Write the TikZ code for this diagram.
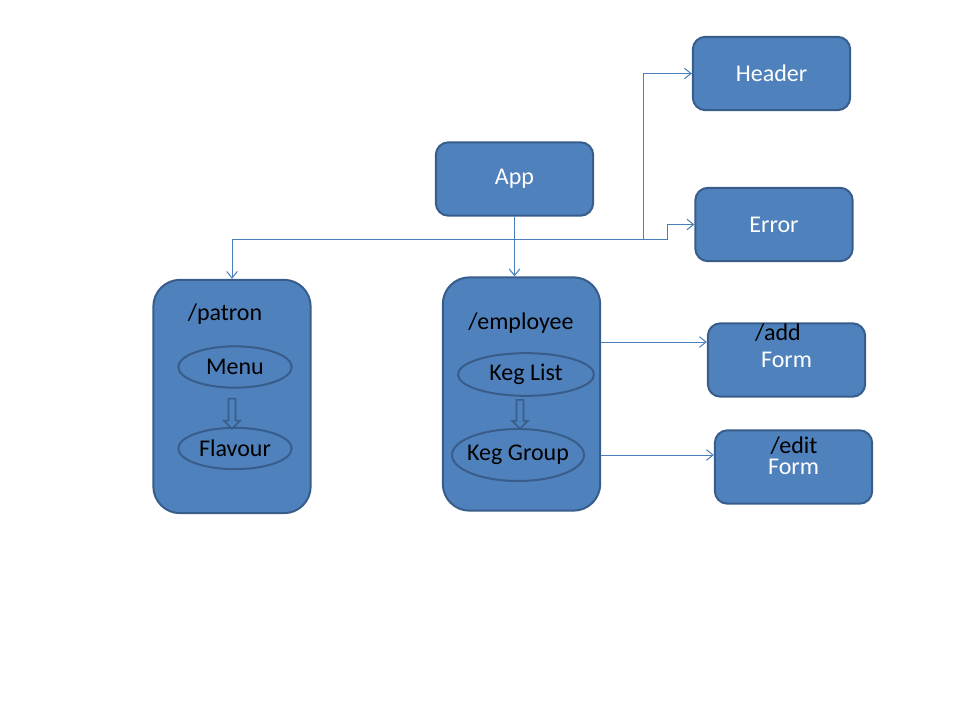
\documentclass[tikz,border=0pt]{standalone}
\usepackage{fontspec}
\setmainfont{Carlito}
\usetikzlibrary{arrows.meta,shapes.geometric}
\definecolor{boxfill}{HTML}{4F81BD}
\definecolor{boxline}{HTML}{385D8A}
\definecolor{wire}{HTML}{4A7EBB}
\begin{document}
\begin{tikzpicture}[x=0.75pt, y=-0.75pt, font=\fontsize{18}{21}\selectfont,
    box/.style={draw=boxline, fill=boxfill, line width=1.5pt, rounded corners=9.4pt,
        minimum width=118pt, minimum height=55pt, text=white},
    bigbox/.style={box, rounded corners=20pt, minimum height=175pt},
    oval/.style={ellipse, draw=boxline, fill=boxfill, line width=1.5pt,
        minimum width=85pt, minimum height=31pt, inner sep=0pt},
    conn/.style={draw=wire, line width=0.75pt, -{Straight Barb[length=5pt,width=8pt]}},
    flow/.style={draw=boxline, fill=boxfill, line width=1.2pt, line join=miter}]
            \useasboundingbox (0,0) rectangle (960,720);
            % boxes
            \node[box] (header) at (771.5,73.5) {Header};
            \node[box] (app) at (514.5,179) {App};
            \node[box] (error) at (774,224.5) {Error};
            \node[bigbox] (patron) at (232,396.5) {};
            \node[bigbox] (employee) at (521.5,394) {};
            \node[box] (add) at (786.5,360) {Form};
            \node[box] (edit) at (793.5,467) {Form};
            \node (patronlabel) at (225,314) {/patron};
            \node (employeelabel) at (521,323) {/employee};
            \node (addlabel) at (778,333) {/add};
            \node (editlabel) at (794,446) {/edit};
            % components
            \node[oval] (menu) at (235,367) {Menu};
            \node[oval] (flavour) at (235,448.5) {Flavour};
            \node[oval, minimum width=102pt, minimum height=32pt] (keglist) at (526,374.5) {Keg List};
            \node[oval, minimum width=99pt, minimum height=39pt, label=center:{Keg Group}] (keggroup) at (518,455) {};
            \draw[flow] (menu.south -| 232,0) ++(-3.5,10) -- ++(0,22) -- ++(-4.5,0) -- ++(8,8)
                -- ++(8,-8) -- ++(-4.5,0) -- ++(0,-22) -- cycle;
            \draw[flow] (keglist.south -| 520,0) ++(-3.5,3) -- ++(0,21) -- ++(-4.5,0) -- ++(8,8)
                -- ++(8,-8) -- ++(-4.5,0) -- ++(0,-21) -- cycle;
            % routes
            \coordinate (hub) at (app.south |- 0,240);
            \coordinate (fork) at (643,240);
            \coordinate (bend) at (667,240);
            \draw[conn] (app.south) -- (hub) -| (patron.north);
            \draw[conn] (hub) -- (hub |- employee.north);
            \draw[conn] (hub) -- (fork) |- (header.west);
            \draw[conn] (fork) -- (bend) |- (error.west);
            \draw[conn] (employee.east |- 0,342) -- (add.west |- 0,342);
            \draw[conn] (employee.east |- 0,455) -- (edit.west |- 0,455);
        \end{tikzpicture}
\end{document}
